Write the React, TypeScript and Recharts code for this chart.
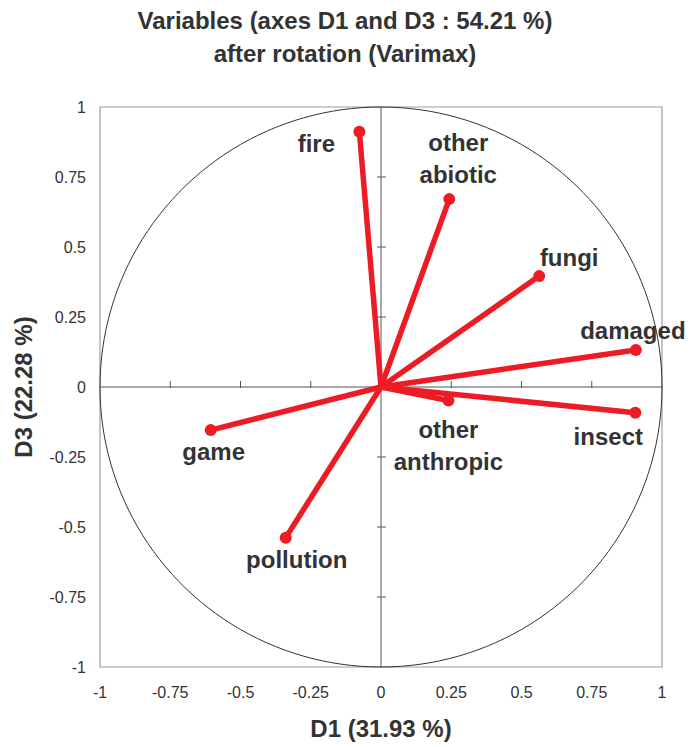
import React from "react";
import {
  ScatterChart,
  Scatter,
  XAxis,
  YAxis,
  ReferenceLine,
  ReferenceArea,
  ReferenceDot,
} from "recharts";

// variable loadings on D1 / D3 after varimax rotation
const variables = [
  "fire",
  "other abiotic",
  "fungi",
  "damaged",
  "insect",
  "other anthropic",
  "game",
  "pollution",
];
const d1Values = [-0.077, 0.243, 0.563, 0.907, 0.905, 0.24, -0.606, -0.339];
const d3Values = [0.912, 0.671, 0.396, 0.132, -0.092, -0.048, -0.154, -0.538];

const axisTicks = [-1, -0.75, -0.5, -0.25, 0, 0.25, 0.5, 0.75, 1];

const RED = "#ed1c24";
const TEXT = "#333333";
const FONT = '"Liberation Sans", Arial, Helvetica, sans-serif';

// where each name sits relative to its arrow head (px)
const labelOffset: Record<string, { dx: number; dy: number; lines: string[] }> = {
  fire: { dx: -43, dy: 12, lines: ["fire"] },
  "other abiotic": { dx: 9, dy: -57, lines: ["other", "abiotic"] },
  fungi: { dx: 30, dy: -19, lines: ["fungi"] },
  damaged: { dx: -3, dy: -20, lines: ["damaged"] },
  insect: { dx: -27, dy: 24, lines: ["insect"] },
  "other anthropic": { dx: 0, dy: 29, lines: ["other", "anthropic"] },
  game: { dx: 3, dy: 21, lines: ["game"] },
  pollution: { dx: 11, dy: 22, lines: ["pollution"] },
};

// unit circle of correlations
const circle = Array.from({ length: 181 }, (_, i) => {
  const a = (i * 2 * Math.PI) / 180;
  return { x: Math.cos(a), y: Math.sin(a) };
});

const innerTicks = axisTicks.filter((t) => t !== 0 && Math.abs(t) !== 1);

const vectorShape = (props: any) => {
  const { cx, cy, payload } = props;
  if (!payload || !payload.name) return <g />;
  const lab = labelOffset[payload.name];
  return (
    <g>
      <circle cx={cx} cy={cy} r={6} fill={RED} />
      {lab.lines.map((ln, i) => (
        <text
          key={ln}
          x={cx + lab.dx}
          y={cy + lab.dy + i * 32}
          textAnchor="middle"
          dominantBaseline="central"
          fontFamily={FONT}
          fontWeight="bold"
          fontSize={24}
          fill={TEXT}
        >
          {ln}
        </text>
      ))}
    </g>
  );
};

export default function App() {
  return (
    <div style={{ position: "absolute", left: 0, top: 0, width: 690, height: 747, background: "#fff" }}>
      <ScatterChart
        width={690}
        height={747}
        margin={{ top: 107, right: 28, bottom: 0, left: 0 }}
      >
        <XAxis
          type="number"
          dataKey="x"
          domain={[-1, 1]}
          ticks={axisTicks}
          height={80}
          axisLine={false}
          tickLine={false}
          tickSize={0}
          tickMargin={20}
          tick={{ fill: TEXT, fontSize: 16, fontFamily: FONT }}
        />
        <YAxis
          type="number"
          dataKey="y"
          domain={[-1, 1]}
          ticks={axisTicks}
          width={100}
          axisLine={false}
          tickLine={false}
          tickSize={0}
          tickMargin={14}
          tick={{ fill: TEXT, fontSize: 16, fontFamily: FONT }}
        />
        <ReferenceArea
          x1={-1}
          x2={1}
          y1={-1}
          y2={1}
          fill="none"
          stroke="#a29c9a"
          strokeWidth={1.2}
        />
        <ReferenceLine x={0} stroke="#555" strokeWidth={1} />
        <ReferenceLine y={0} stroke="#555" strokeWidth={1} />
        {innerTicks.map((t) => (
          <ReferenceDot
            key={"v" + t}
            x={0}
            y={t}
            shape={(p: any) => (
              <line x1={p.cx - 4} x2={p.cx + 5} y1={p.cy} y2={p.cy} stroke="#555" />
            )}
          />
        ))}
        {innerTicks.map((t) => (
          <ReferenceDot
            key={"h" + t}
            x={t}
            y={0}
            shape={(p: any) => (
              <line x1={p.cx} x2={p.cx} y1={p.cy - 6} y2={p.cy + 1} stroke="#555" />
            )}
          />
        ))}
        <Scatter
          data={circle}
          line={{ stroke: "#333", strokeWidth: 1 }}
          shape={() => <g />}
          isAnimationActive={false}
        />
        {variables.map((v, i) => (
          <Scatter
            key={v}
            data={[
              { x: 0, y: 0 },
              { x: d1Values[i], y: d3Values[i], name: v },
            ]}
            line={{ stroke: RED, strokeWidth: 5.5 }}
            shape={vectorShape}
            isAnimationActive={false}
          />
        ))}
      </ScatterChart>
      <svg
        width={690}
        height={747}
        style={{ position: "absolute", left: 0, top: 0, pointerEvents: "none" }}
        fontFamily={FONT}
        fontWeight="bold"
        fill={TEXT}
      >
        <text x={345} y={29} textAnchor="middle" fontSize={24}>
          Variables (axes D1 and D3 : 54.21 %)
        </text>
        <text x={345} y={62} textAnchor="middle" fontSize={24}>
          after rotation (Varimax)
        </text>
        <text x={381} y={737} textAnchor="middle" fontSize={24}>
          D1 (31.93 %)
        </text>
        <text
          x={32}
          y={387}
          textAnchor="middle"
          fontSize={24}
          transform="rotate(-90 32 387)"
        >
          D3 (22.28 %)
        </text>
      </svg>
    </div>
  );
}
